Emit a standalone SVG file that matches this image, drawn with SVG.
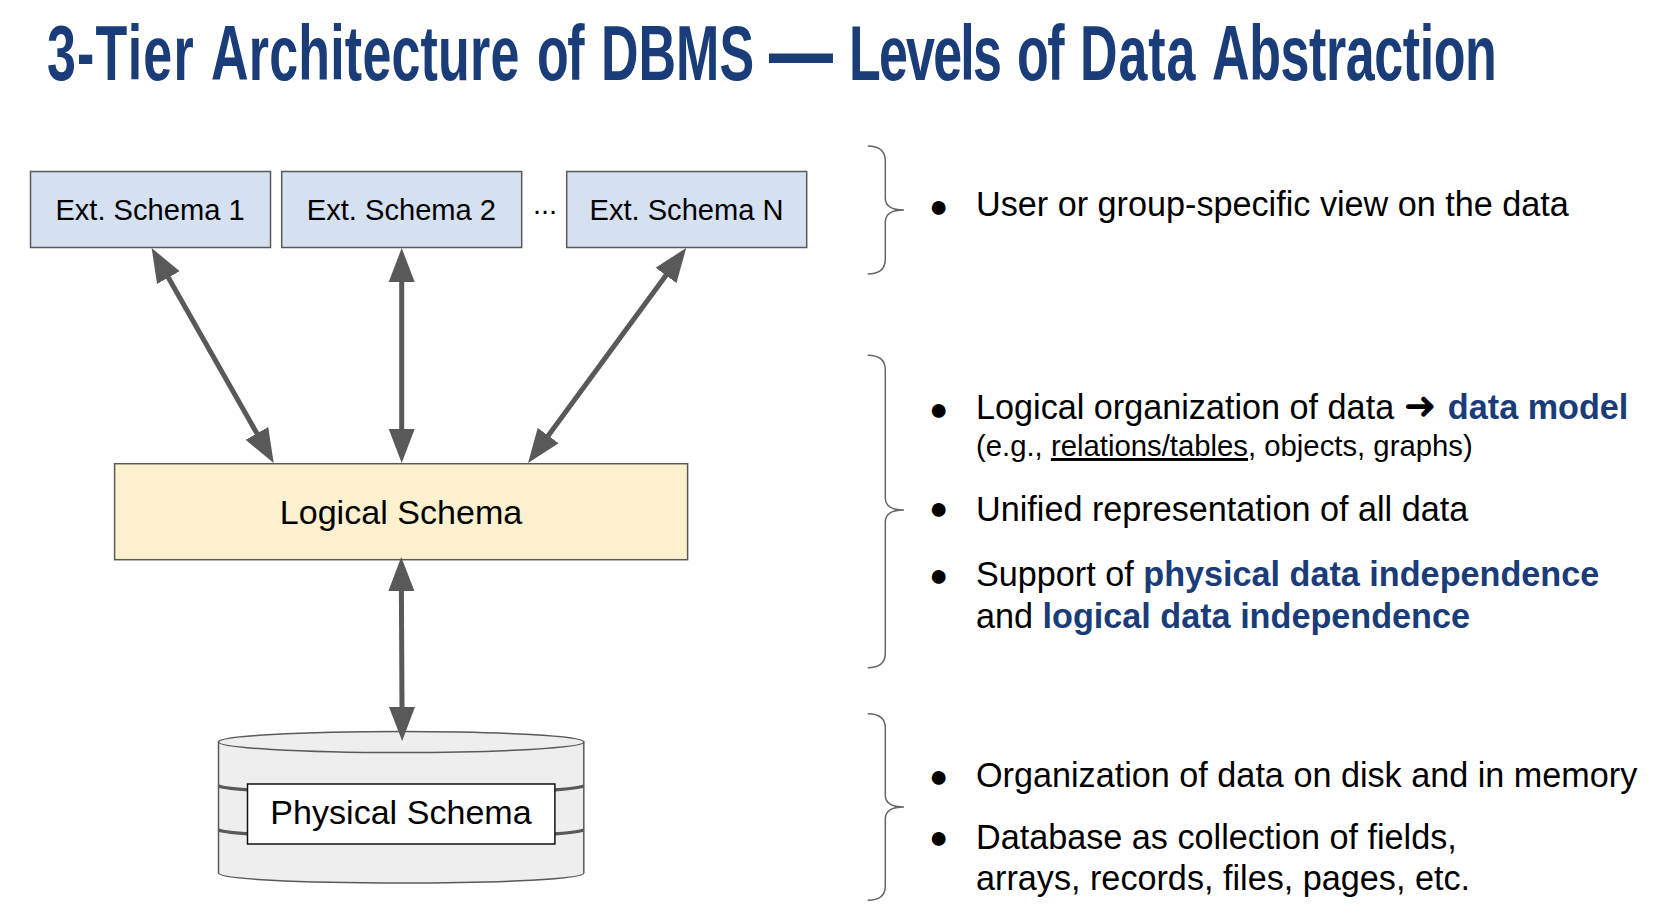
<svg xmlns="http://www.w3.org/2000/svg" width="1676" height="920" viewBox="0 0 1676 920">
<style>
text{font-family:"Liberation Sans",Arial,sans-serif;fill:#000}
.title{font-size:52px;font-weight:700;fill:#1a3c78}
.box{stroke:#595959;stroke-width:1.5}
.ext{fill:#d5e1f1}
.n29{font-size:29.1px;text-anchor:middle}
.n34{font-size:34.1px;text-anchor:middle}
.body{font-size:34.2px}
.small{font-size:29.3px}
.em{font-weight:700;fill:#1a3c78}
.bul{font-size:32px;text-anchor:middle}
.arrow{stroke:#595959;stroke-width:5;fill:none;marker-start:url(#head);marker-end:url(#head)}
.brace{fill:none;stroke:#666;stroke-width:1.5}
.cyl{fill:#eee;stroke:#595959;stroke-width:1.5}
.band{fill:none;stroke:#595959;stroke-width:3}
</style>
<defs>
<marker id="head" markerUnits="userSpaceOnUse" markerWidth="36" markerHeight="28" refX="1" refY="14" orient="auto-start-reverse"><path d="M0,1L34,14L0,27Z" fill="#595959"/></marker>
</defs>
<rect width="1676" height="920" fill="#fff"/>
<text id="title" class="title" transform="scale(1 1.5)" x="47" y="53.3"><tspan letter-spacing="1.2">3-Tier</tspan> <tspan x="211" letter-spacing="0.2">Architecture</tspan> <tspan x="537" letter-spacing="-1.5">of</tspan> <tspan x="601">DBMS</tspan> <tspan x="769" dy="3" style="font-size:64px">—</tspan> <tspan x="849" dy="-3" letter-spacing="-1.8">Levels</tspan> <tspan x="1017" letter-spacing="-1.5">of</tspan> <tspan x="1080" letter-spacing="0.9">Data</tspan> <tspan x="1212" letter-spacing="-0.4">Abstraction</tspan></text>
<g id="ext1"><rect class="box ext" x="30.5" y="171.5" width="240" height="76"/><text class="n29" x="150" y="220">Ext. Schema 1</text></g>
<g id="ext2"><rect class="box ext" x="281.700" y="171.5" width="240" height="76"/><text class="n29" x="401.400" y="220">Ext. Schema 2</text></g>
<g id="dots"><text font-size="29" x="533" y="213.500">...</text></g>
<g id="extN"><rect class="box ext" x="566.700" y="171.5" width="240" height="76"/><text class="n29" x="686.500" y="220">Ext. Schema N</text></g>
<g id="logical"><rect class="box" x="114.600" y="463.700" width="573" height="96" style="fill:#fdf0cf"/><text class="n34" x="401" y="524">Logical Schema</text></g>
<g id="physical" transform="translate(0 1)">
<path class="cyl" d="M218.500,741V872C218.500,878 298,882 401.200,882S583.800,878 583.800,872V741Z"/>
<ellipse class="cyl" cx="401.200" cy="741" rx="182.700" ry="10.500"/>
<path class="band" d="M218.500,785C228,789 298,793 401.200,793S574,789 583.800,785"/>
<path class="band" d="M218.500,829C228,833 298,837 401.200,837S574,833 583.800,829"/>
<rect x="247.500" y="783" width="307.400" height="60" fill="#fff" stroke="#111" stroke-width="1.500"/>
<text class="n34" x="401" y="823">Physical Schema</text>
</g>
<g id="connectors">
<line class="arrow" x1="167.900" y1="276.700" x2="257.400" y2="434.300"/>
<line class="arrow" x1="401.700" y1="281" x2="401.700" y2="430"/>
<line class="arrow" x1="666.600" y1="274.600" x2="547.600" y2="436.400"/>
<line class="arrow" x1="401.400" y1="590" x2="402" y2="708"/>
</g>
<g id="braces" transform="translate(0 1)">
<path class="brace" d="M867.700,145Q885.300,145 885.300,160V197Q885.300,209 904,209Q885.300,209 885.300,221V258Q885.300,273 867.700,273"/>
<path class="brace" d="M867.700,354.300Q885.300,354.300 885.300,369V497Q885.300,509 904,509Q885.300,509 885.300,521V652Q885.300,666.700 867.700,666.700"/>
<path class="brace" d="M867.700,712.700Q885.300,712.700 885.300,727V794Q885.300,806 904,806Q885.300,806 885.300,818V885Q885.300,899.300 867.700,899.300"/>
</g>
<g id="notes">
<text class="bul" x="938.600" y="217">●</text>
<text class="body" x="976" y="216">User or group-specific view on the data</text>
<text class="bul" x="938.600" y="419.500">●</text>
<text class="body" x="976" y="419">Logical organization of data <tspan style="font-family:'DejaVu Sans';font-size:39px">➜</tspan> <tspan class="em" dx="2">data model</tspan></text>
<text class="small" x="976" y="456">(e.g., <tspan text-decoration="underline">relations/tables</tspan>, objects, graphs)</text>
<text class="bul" x="938.600" y="519">●</text>
<text class="body" x="976" y="520.500">Unified representation of all data</text>
<text class="bul" x="938.600" y="586">●</text>
<text class="body" x="976" y="586">Support of <tspan class="em">physical data independence</tspan></text>
<text class="body" x="976" y="628">and <tspan class="em">logical data independence</tspan></text>
<text class="bul" x="938.600" y="786.500">●</text>
<text class="body" x="976" y="787">Organization of data on disk and in memory</text>
<text class="bul" x="938.600" y="848">●</text>
<text class="body" x="976" y="849">Database as collection of fields,</text>
<text class="body" x="976" y="890">arrays, records, files, pages, etc.</text>
</g>
</svg>
